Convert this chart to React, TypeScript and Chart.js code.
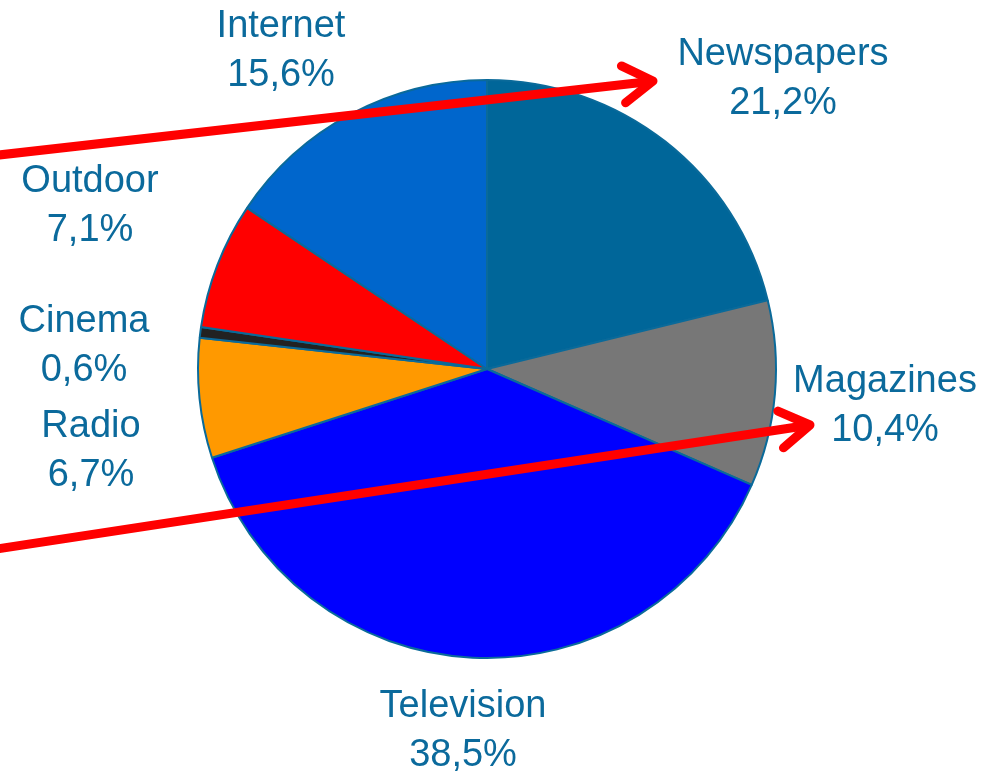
import React, { useEffect, useRef } from "react";
import { Chart, registerables } from "chart.js";

Chart.register(...registerables);

const categories = ["Newspapers", "Magazines", "Television", "Radio", "Cinema", "Outdoor", "Internet"];
const shares = [21.2, 10.4, 38.5, 6.7, 0.6, 7.1, 15.6];
const sliceColors = ["#006699", "#777777", "#0000FF", "#FF9900", "#222222", "#FF0000", "#0066CC"];

// label anchor: [centerX, firstLineBaseline] in canvas pixels
const labelLayout: [number, number][] = [
  [783, 65],
  [885, 392],
  [463, 717],
  [91, 437],
  [84, 332],
  [90, 192],
  [281, 37],
];

// red annotation arrows: [x0, y0, tipX, tipY]
const arrows: [number, number, number, number][] = [
  [-10, 156, 653, 81],
  [-10, 550, 810, 425],
];

const TEXT_COLOR = "#0B6A9C";
const FONT = "38px 'Liberation Sans', Arial, sans-serif";

const fmt = (v: number) => v.toFixed(1).replace(".", ",") + "%";

const overlayPlugin = {
  id: "overlay",
  afterDraw(chart: any) {
    const ctx = chart.ctx as CanvasRenderingContext2D;
    ctx.save();
    // arrows
    ctx.strokeStyle = "#FF0000";
    ctx.lineWidth = 9;
    ctx.lineCap = "round";
    ctx.lineJoin = "round";
    for (const [x0, y0, x1, y1] of arrows) {
      ctx.beginPath();
      ctx.moveTo(x0, y0);
      ctx.lineTo(x1 - 3, y1 + 0.5);
      ctx.stroke();
      const ang = Math.atan2(y1 - y0, x1 - x0);
      const len = 35;
      const spread = (32 * Math.PI) / 180;
      ctx.beginPath();
      ctx.moveTo(x1 - len * Math.cos(ang - spread), y1 - len * Math.sin(ang - spread));
      ctx.lineTo(x1, y1);
      ctx.lineTo(x1 - len * Math.cos(ang + spread), y1 - len * Math.sin(ang + spread));
      ctx.stroke();
    }
    // labels
    ctx.fillStyle = TEXT_COLOR;
    ctx.font = FONT;
    ctx.textAlign = "center";
    ctx.textBaseline = "alphabetic";
    categories.forEach((c, i) => {
      const [x, y] = labelLayout[i];
      ctx.fillText(c, x, y);
      ctx.fillText(fmt(shares[i]), x, y + 49);
    });
    ctx.restore();
  },
};

export default function App() {
  const ref = useRef<HTMLCanvasElement | null>(null);
  useEffect(() => {
    if (!ref.current) return;
    const chart = new Chart(ref.current, {
      type: "pie",
      data: {
        labels: categories,
        datasets: [
          {
            data: shares,
            backgroundColor: sliceColors,
            borderColor: "#0A6A9A",
            borderWidth: 2,
          },
        ],
      },
      options: {
        responsive: false,
        animation: false,
        devicePixelRatio: 1,
        layout: { padding: { left: 197, right: 223, top: 79, bottom: 115 } },
        plugins: {
          legend: { display: false },
          tooltip: { enabled: false },
        },
      },
      plugins: [overlayPlugin],
    });
    return () => chart.destroy();
  }, []);
  return (
    <div style={{ position: "absolute", left: 0, top: 0, width: 1000, height: 774, background: "#fff" }}>
      <canvas ref={ref} width={1000} height={774} />
    </div>
  );
}
